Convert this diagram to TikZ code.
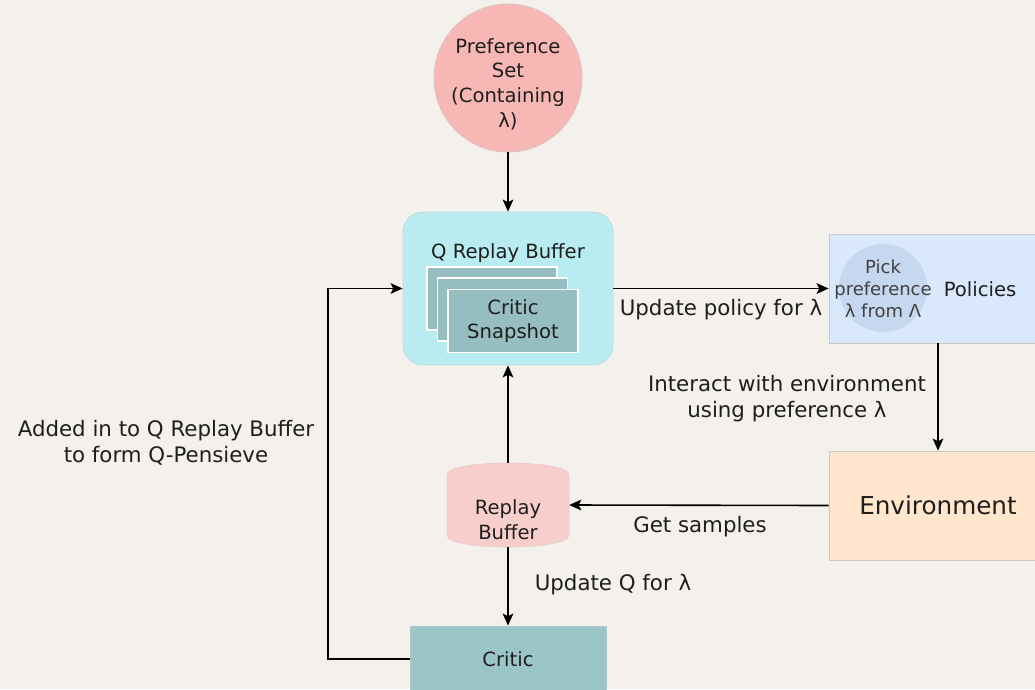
\documentclass[tikz,border=0pt]{standalone}
\usepackage{fontspec}
\setmainfont{DejaVu Sans}
\usetikzlibrary{arrows.meta,calc}

\definecolor{bgc}{HTML}{F4F1EC}
\definecolor{prefc}{HTML}{F7B8B5}
\definecolor{qrbc}{HTML}{B9ECF0}
\definecolor{cardc}{HTML}{96BEC1}
\definecolor{polc}{HTML}{DAE8FC}
\definecolor{pickc}{HTML}{C6D8F0}
\definecolor{envc}{HTML}{FFE6CC}
\definecolor{rbc}{HTML}{F8CECC}
\definecolor{criticc}{HTML}{9AC6C8}
\definecolor{edgec}{HTML}{C8C8C8}
\definecolor{txtc}{HTML}{1E1E1E}

\tikzset{
  flow/.style={line width=1.2pt, -{Stealth[length=9pt,width=8pt,inset=2pt]}},
  lbl/.style={font=\fontsize{16}{19.5}\selectfont, text=txtc, align=center, inner sep=0pt},
  boxtxt/.style={font=\fontsize{14.7}{18.5}\selectfont, text=txtc, align=center},
  card/.style={rectangle, fill=cardc, draw=white, line width=0.8pt,
    minimum width=97.5pt, minimum height=47.25pt, inner sep=0pt},
}

\begin{document}
\begin{tikzpicture}[x=0.75pt, y=-0.75pt]
  \useasboundingbox (0,0) rectangle (1035,689);
  \fill[bgc] (0,0) rectangle (1035,689);

  % preference set
  \node[circle, fill=prefc, draw=edgec!60!prefc, line width=0.6pt,
        minimum size=111pt, inner sep=0pt] (pref) at (508,78) {};
  \node[boxtxt, inner sep=0pt] (preftxt) at (508,84)
        {Preference\\Set\\(Containing\\λ)};

  % Q replay buffer with stacked critic snapshots
  \node[rectangle, rounded corners=15pt, fill=qrbc, draw=edgec!50!qrbc, line width=0.6pt,
        minimum width=157.5pt, minimum height=114.75pt] (qrb) at (508,288.5) {};
  \node[boxtxt, inner sep=0pt] (qrbtitle) at (508,253) {Q Replay Buffer};
  \node[card] (card1) at (492,298.5) {};
  \node[card] (card2) at (502.5,309.5) {};
  \node[card, boxtxt, inner sep=0pt] (card3) at (513,321) {Critic\\Snapshot};

  % policies
  \node[rectangle, fill=polc, draw=edgec, line width=0.6pt,
        minimum width=163.5pt, minimum height=81.75pt] (pol) at (938,288.5) {};
  \node[circle, fill=pickc, minimum size=66pt, inner sep=0pt] (pick) at (883,288) {};
  \node[font=\fontsize{13.5}{16.5}\selectfont, text=txtc!85!white, align=center, inner sep=0pt]
        (picktxt) at (883,289) {Pick\\preference\\λ from Λ};
  \node[lbl, font=\fontsize{14.7}{18}\selectfont] (poltxt) at (980,289) {Policies};

  % environment
  \node[rectangle, fill=envc, draw=edgec, line width=0.6pt,
        minimum width=163.5pt, minimum height=81.75pt,
        font=\fontsize{18.5}{22}\selectfont, text=txtc] (env) at (938,505.5) {Environment};

  % replay buffer (cylinder)
  \node[minimum width=91.5pt, minimum height=63pt, inner sep=0pt] (rb) at (508,505) {};
  \fill[rbc] (447,475) -- (447,535) .. controls (447,551) and (569,551) .. (569,535)
        -- (569,475) .. controls (569,459) and (447,459) .. (447,475) -- cycle;
  \draw[edgec!40!rbc, line width=0.5pt] (447,475) -- (447,535) .. controls (447,551) and (569,551) .. (569,535)
        -- (569,475) .. controls (569,459) and (447,459) .. (447,475) -- cycle;
  \node[boxtxt, inner sep=0pt] (rbtxt) at (508,520) {Replay\\Buffer};

  % critic
  \node[rectangle, fill=criticc, draw=edgec!50!criticc, line width=0.6pt,
        minimum width=147pt, minimum height=49.5pt, boxtxt] (critic) at (508,659) {Critic};

  % connectors
  \draw[flow] (pref.south) -- (qrb.north);
  \draw[flow] (qrb.east) -- (pol.west);
  \draw[flow] (pol.south) -- (env.north);
  \draw[flow] (env.west) -- (rb.east);
  \draw[flow] (rb.north) -- (qrb.south);
  \draw[flow] (rb.south) -- (critic.north);
  \coordinate (bend) at (328,659);
  \draw[flow] (critic.west) -- (bend) |- (qrb.west);

  % connector labels
  \node[lbl] (l1) at (721,310) {Update policy for λ};
  \node[lbl] (l2) at (787,399) {Interact with environment\\using preference λ};
  \node[lbl] (l3) at (700,527) {Get samples};
  \node[lbl] (l4) at (613,585) {Update Q for λ};
  \node[lbl] (l5) at (166,443) {Added in to Q Replay Buffer\\to form Q-Pensieve};
\end{tikzpicture}
\end{document}
